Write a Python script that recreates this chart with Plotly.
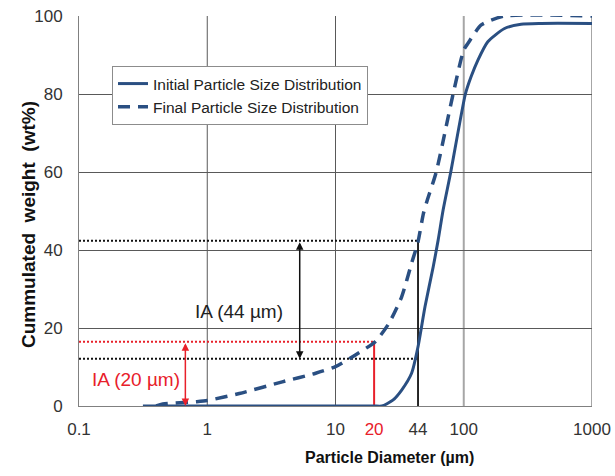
import math
import plotly.graph_objects as go

# ---- data ----
initial_x = [0.315, 1, 10, 20, 23, 28, 32.8, 39.2, 44, 49.9, 57.8, 63.2, 69.1, 79.2, 103, 114, 129, 154, 208, 280, 400, 1000]
initial_y = [0, 0, 0, 0, 0, 1.5, 4.1, 8.4, 15.2, 25.5, 35.7, 42.6, 50.3, 60, 80, 84.4, 88.7, 93.4, 96.8, 97.9, 98.1, 98.1]

final_x = [0.4, 0.45, 0.82, 1, 1.78, 3.85, 7, 10, 14.3, 20.4, 26.1, 32.8, 39.2, 44, 48.5, 52, 61, 82.6, 100, 108, 137, 208, 1000]
final_y = [0, 0.5, 1.1, 1.4, 3.2, 6.2, 8.4, 10.1, 13.1, 16.5, 21.2, 28, 36.6, 42.1, 49.4, 52.8, 60, 80, 91.3, 93, 97.7, 100, 100]

x_tickvals = [0.1, 1, 10, 20, 44, 100, 1000]
x_ticktext = ["0.1", "1", "10", '<span style="color:#e8202a">20</span>', "44", "100", "1000"]
y_tickvals = [0, 20, 40, 60, 80, 100]

grid_dark_x = [1, 10]
grid_light_x = [100, 1000]

# IA markers
ia44_d = 44
ia44_top = 42.4
ia44_bottom = 12.1
ia20_d = 20
ia20_top = 16.5
arrow44_x = 5.26
arrow20_x = 0.675
label44 = "IA (44 µm)"
label20 = "IA (20 µm)"
label44_pos = (1.78, 24.2)
label20_pos = (0.278, 6.7)

blue = "#2a4f82"
red = "#e8202a"
font_family = "Arial, Liberation Sans, sans-serif"

fig = go.Figure()

# dotted guide lines
fig.add_trace(go.Scatter(x=[0.1, ia44_d], y=[ia44_top, ia44_top], mode="lines",
                         line=dict(color="#111111", width=2, dash="2px,2px"), showlegend=False, hoverinfo="skip"))
fig.add_trace(go.Scatter(x=[0.1, ia44_d], y=[ia44_bottom, ia44_bottom], mode="lines",
                         line=dict(color="#111111", width=2, dash="2px,2px"), showlegend=False, hoverinfo="skip"))
fig.add_trace(go.Scatter(x=[0.1, ia20_d], y=[ia20_top, ia20_top], mode="lines",
                         line=dict(color=red, width=2, dash="2px,2px"), showlegend=False, hoverinfo="skip"))
# vertical measurement lines
fig.add_trace(go.Scatter(x=[ia44_d, ia44_d], y=[0, ia44_top], mode="lines",
                         line=dict(color="#111111", width=1.8), showlegend=False, hoverinfo="skip"))
fig.add_trace(go.Scatter(x=[ia20_d, ia20_d], y=[0, ia20_top], mode="lines",
                         line=dict(color=red, width=2), showlegend=False, hoverinfo="skip"))

fig.add_trace(go.Scatter(x=initial_x, y=initial_y, mode="lines", name="Initial Particle Size Distribution",
                         line=dict(color=blue, width=3, shape="spline", smoothing=0.6)))
fig.add_trace(go.Scatter(x=final_x, y=final_y, mode="lines", name="Final Particle Size Distribution",
                         line=dict(color=blue, width=3.5, dash="12px,8px", shape="spline", smoothing=0.6)))

shapes = []
for gx in grid_dark_x:
    shapes.append(dict(type="line", xref="x", yref="y", x0=gx, x1=gx, y0=0, y1=100,
                       line=dict(color="#595959", width=1), layer="below"))
for gx in grid_light_x:
    shapes.append(dict(type="line", xref="x", yref="y", x0=gx, x1=gx, y0=0, y1=100,
                       line=dict(color="#a6a6a6", width=2), layer="below"))

annotations = [
    dict(x=math.log10(arrow44_x), y=ia44_bottom, ax=math.log10(arrow44_x), ay=ia44_top,
         xref="x", yref="y", axref="x", ayref="y", text="", showarrow=True,
         arrowhead=2, startarrowhead=2, arrowside="end+start", arrowsize=1, arrowwidth=1.5,
         arrowcolor="#111111", standoff=0, startstandoff=0),
    dict(x=math.log10(arrow20_x), y=0, ax=math.log10(arrow20_x), ay=ia20_top,
         xref="x", yref="y", axref="x", ayref="y", text="", showarrow=True,
         arrowhead=2, startarrowhead=2, arrowside="end+start", arrowsize=1, arrowwidth=1.5,
         arrowcolor=red, standoff=0, startstandoff=0),
    dict(x=math.log10(label44_pos[0]), y=label44_pos[1], xref="x", yref="y", text=label44,
         xanchor="center", yanchor="middle",
         showarrow=False, font=dict(size=19, color="#222222", family=font_family)),
    dict(x=math.log10(label20_pos[0]), y=label20_pos[1], xref="x", yref="y", text=label20,
         xanchor="center", yanchor="middle",
         showarrow=False, font=dict(size=19, color=red, family=font_family)),
    dict(x=(28 - 79) / 513, y=(406 - 225) / 390, xref="paper", yref="paper",
         xanchor="center", yanchor="middle",
         text="<b>Cummulated\u00a0 weight\u00a0 (wt%)</b>", textangle=-90, showarrow=False,
         font=dict(size=19, color="#111111", family=font_family)),
    dict(x=(389 - 79) / 513, y=(406 - 457) / 390, xref="paper", yref="paper",
         xanchor="center", yanchor="middle",
         text="<b>Particle Diameter (µm)</b>", showarrow=False,
         font=dict(size=16, color="#111111", family=font_family)),
]

fig.update_layout(
    width=615, height=476,
    margin=dict(l=79, r=23, t=16, b=70, autoexpand=False),
    paper_bgcolor="white", plot_bgcolor="white",
    font=dict(family=font_family, color="#222222"),
    shapes=shapes,
    annotations=annotations,
    legend=dict(x=(112 - 79) / 513, y=(406 - 66) / 390, xanchor="left", yanchor="top",
                bgcolor="white", bordercolor="#8c8c8c", borderwidth=1,
                font=dict(size=15.5, color="#222222", family=font_family),
                itemwidth=30, tracegroupgap=0),
    showlegend=True,
)
fig.update_xaxes(type="log", range=[-1, 3], tickvals=x_tickvals, ticktext=x_ticktext, automargin=False,
                 showgrid=False, zeroline=False, showline=True, linecolor="#808080", linewidth=1,
                 ticks="", tickfont=dict(size=17, color="#333333"), ticklabelstandoff=8)
fig.update_yaxes(range=[0, 100], tickvals=y_tickvals, showgrid=True, gridcolor="#595959", gridwidth=1,
                 automargin=False,
                 zeroline=False, showline=True, linecolor="#808080", linewidth=1,
                 ticks="", tickfont=dict(size=17, color="#333333"), ticklabelstandoff=12)

fig.write_html("out.html")
